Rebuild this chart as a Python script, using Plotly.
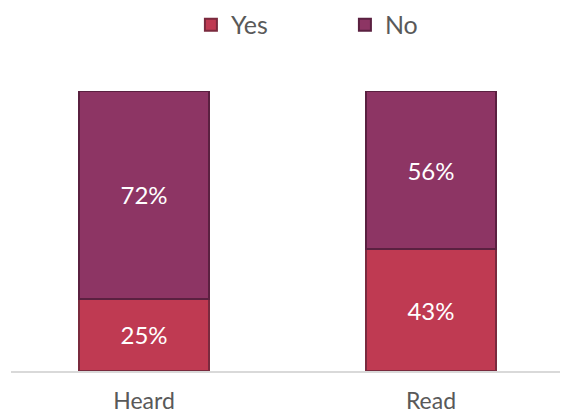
import plotly.graph_objects as go

categories = ["Heard", "Read"]
yes_vals = [25, 43]
no_vals = [72, 56]
yes_text = ["25%", "43%"]
no_text = ["72%", "56%"]

FONT = "Lato"

fig = go.Figure()
fig.add_trace(go.Bar(
    x=categories, y=yes_vals, name="Yes", text=yes_text,
    marker=dict(color="#bf3a52", line=dict(color="#7a2a3e", width=2)),
    width=0.453, textposition="inside", insidetextanchor="middle",
    textfont=dict(color="white", size=24, family=FONT),
))
fig.add_trace(go.Bar(
    x=categories, y=no_vals, name="No", text=no_text,
    marker=dict(color="#8d3564", line=dict(color="#5a2040", width=2)),
    width=0.453, textposition="inside", insidetextanchor="middle",
    textfont=dict(color="white", size=24, family=FONT),
))

# the page body adds an 8px margin, so everything is shifted up/left by 8
fig.update_layout(
    barmode="stack", barnorm="percent",
    width=560, height=409,
    margin=dict(l=3, r=0, t=83, b=46, autoexpand=False),
    paper_bgcolor="white", plot_bgcolor="white",
    font=dict(family=FONT, color="#595959", size=23),
    showlegend=True,
    legend=dict(orientation="h", x=0.323, xanchor="left", y=1.236, yanchor="middle",
                font=dict(size=25, color="#595959"), itemwidth=30,
                traceorder="normal", entrywidth=109),
    xaxis=dict(range=[-0.4634, 1.4774], showline=True, linecolor="#d9d9d9", linewidth=2,
               ticks="", automargin=False, ticklabelstandoff=8,
               tickfont=dict(size=23, color="#595959")),
    yaxis=dict(range=[0, 100], visible=False, showgrid=False, automargin=False),
    uniformtext=dict(mode="show", minsize=10),
)

fig.write_html("out.html")
